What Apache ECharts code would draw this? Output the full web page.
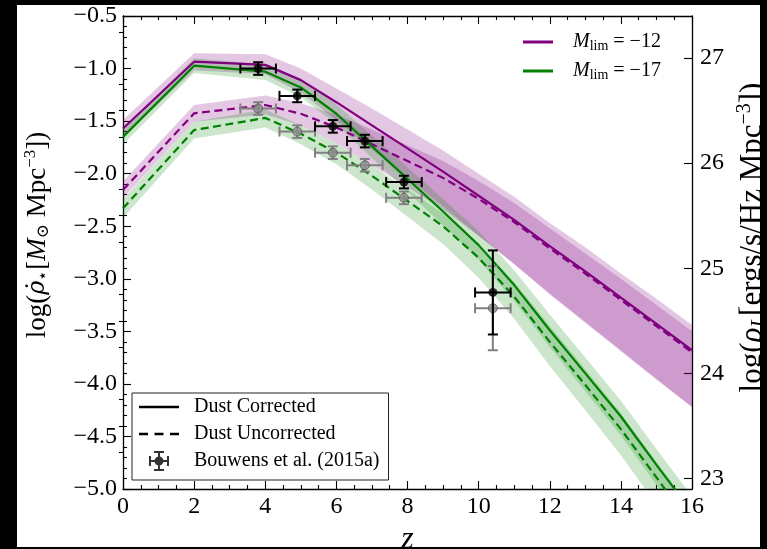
<!DOCTYPE html>
<html><head><meta charset="utf-8">
<script src="https://cdn.jsdelivr.net/npm/echarts@6/dist/echarts.min.js"></script>
<style>html,body{margin:0;padding:0;background:#000;}#chart{width:767px;height:549px;}</style>
</head><body><div id="chart"></div>
<script>
// ---------------- data ----------------
const zNodes = [0, 2, 4, 5, 6, 7, 8, 9, 10, 11, 12, 13, 14, 15, 16];

// M_lim = -12 (purple)
const purpleCorr   = [-1.57, -0.935, -0.965, -1.11, -1.32, -1.54, -1.76, -1.98, -2.21, -2.44, -2.69, -2.93, -3.18, -3.43, -3.68];
const purpleCorrHi = [-1.49, -0.855, -0.865, -1.00, -1.19, -1.38, -1.58, -1.78, -2.00, -2.22, -2.47, -2.70, -2.95, -3.19, -3.44];
const purpleCorrLo = [-1.65, -1.015, -1.055, -1.23, -1.49, -1.77, -2.04, -2.31, -2.59, -2.86, -3.14, -3.41, -3.68, -3.95, -4.22];
const purpleUnc    = [-2.155, -1.426, -1.347, -1.43, -1.56, -1.72, -1.88, -2.04, -2.24, -2.46, -2.71, -2.95, -3.20, -3.45, -3.70];
const purpleUncHi  = [-2.075, -1.346, -1.257, -1.33, -1.44, -1.58, -1.73, -1.88, -2.07, -2.28, -2.52, -2.76, -3.00, -3.25, -3.50];
const purpleUncLo  = [-2.235, -1.506, -1.437, -1.54, -1.71, -1.92, -2.13, -2.34, -2.59, -2.86, -3.15, -3.42, -3.69, -3.96, -4.22];

// M_lim = -17 (green)
const greenCorr    = [-1.65, -0.973, -1.03, -1.18, -1.43, -1.74, -2.05, -2.36, -2.68, -3.06, -3.49, -3.90, -4.31, -4.77, -5.22];
const greenCorrHi  = [-1.58, -0.903, -0.96, -1.10, -1.34, -1.64, -1.94, -2.24, -2.55, -2.92, -3.34, -3.75, -4.16, -4.62, -5.07];
const greenCorrLo  = [-1.72, -1.043, -1.11, -1.27, -1.53, -1.85, -2.17, -2.49, -2.82, -3.21, -3.65, -4.07, -4.49, -4.96, -5.42];
const greenUnc     = [-2.33, -1.585, -1.47, -1.62, -1.80, -2.02, -2.26, -2.50, -2.80, -3.17, -3.60, -4.01, -4.43, -4.89, -5.35];
const greenUncHi   = [-2.24, -1.505, -1.39, -1.54, -1.71, -1.92, -2.15, -2.38, -2.67, -3.03, -3.45, -3.86, -4.28, -4.74, -5.20];
const greenUncLo   = [-2.42, -1.665, -1.56, -1.72, -1.91, -2.15, -2.41, -2.67, -2.99, -3.38, -3.83, -4.25, -4.68, -5.15, -5.62];

// Bouwens et al. (2015a)
const obsZ       = [3.8, 4.9, 5.9, 6.8, 7.9, 10.4];
const obsZErr    = [0.5, 0.5, 0.5, 0.5, 0.5, 0.5];
const obsCorr    = [-1.00, -1.26, -1.55, -1.69, -2.08, -3.13];
const obsUnc     = [-1.38, -1.60, -1.80, -1.92, -2.23, -3.28];
const obsErrLo   = [0.06, 0.06, 0.06, 0.06, 0.06, 0.40];
const obsErrHi   = [0.06, 0.06, 0.06, 0.06, 0.06, 0.40];

// axes
const xTicks = [0, 2, 4, 6, 8, 10, 12, 14, 16];
const yLeftTicks = [-5.0, -4.5, -4.0, -3.5, -3.0, -2.5, -2.0, -1.5, -1.0, -0.5];
const yRightTicks = [23, 24, 25, 26, 27];
const yRightMinor = [23.25, 23.5, 23.75, 24.25, 24.5, 24.75, 25.25, 25.5, 25.75, 26.25, 26.5, 26.75, 27.25];

// ---------------- helpers ----------------
const SERIF = "'Liberation Serif', 'DejaVu Serif', serif";
const PURPLE = '#800080', GREEN = '#008000';
const PURPLE_BAND = 'rgba(128,0,128,0.22)', GREEN_BAND = 'rgba(0,128,0,0.2)';

function zip(a, b) { return a.map((v, i) => [v, b[i]]); }
function bandData(lo, hi) { return zNodes.map((z, i) => [z, lo[i], hi[i]]); }
function errData(vals) { return obsZ.map((z, i) => [z, vals[i], obsZErr[i], obsErrLo[i], obsErrHi[i]]); }

function bandRender(color) {
  return function (params, api) {
    if (params.dataIndexInside !== 0) return null;
    const n = params.dataInsideLength;
    const top = [], bot = [];
    for (let i = 0; i < n; i++) {
      const x = api.value(0, i);
      top.push(api.coord([x, api.value(2, i)]));
      bot.push(api.coord([x, api.value(1, i)]));
    }
    const cs = params.coordSys;
    return {
      type: 'polygon',
      shape: { points: top.concat(bot.reverse()) },
      style: { fill: color },
      clipPath: { type: 'rect', shape: { x: cs.x, y: cs.y, width: cs.width, height: cs.height } }
    };
  };
}

function errRender(color) {
  return function (params, api) {
    const x = api.value(0), y = api.value(1), xe = api.value(2), lo = api.value(3), hi = api.value(4);
    const l = api.coord([x - xe, y]), r = api.coord([x + xe, y]);
    const t = api.coord([x, y + hi]), b = api.coord([x, y - lo]);
    const cap = 5;
    const st = { stroke: color, lineWidth: 2 };
    const ln = (x1, y1, x2, y2) => ({ type: 'line', shape: { x1, y1, x2, y2 }, style: st });
    return {
      type: 'group',
      children: [
        ln(l[0], l[1], r[0], r[1]),
        ln(t[0], t[1], b[0], b[1]),
        ln(l[0], l[1] - cap, l[0], l[1] + cap),
        ln(r[0], r[1] - cap, r[0], r[1] + cap),
        ln(t[0] - cap, t[1], t[0] + cap, t[1]),
        ln(b[0] - cap, b[1], b[0] + cap, b[1])
      ]
    };
  };
}

const axisLineStyle = { color: '#000', width: 1.3 };
const tickStyle = { color: '#000', width: 1.1 };

const titleRich = {
  a: { fontFamily: SERIF, fontSize: 27, color: '#000', lineHeight: 30 },
  r: { fontFamily: SERIF, fontSize: 27, fontStyle: 'italic', color: '#000', lineHeight: 30 },
  rd: { fontFamily: "'DejaVu Serif', serif", fontSize: 24, fontStyle: 'italic', color: '#000', lineHeight: 30 },
  sb: { fontFamily: SERIF, fontSize: 17, color: '#000', lineHeight: 18, padding: [12, 0, 0, 0] },
  sp: { fontFamily: SERIF, fontSize: 17, color: '#000', lineHeight: 18, padding: [0, 0, 14, 0] }
};

const titleRichR = {
  a: { fontFamily: SERIF, fontSize: 31, color: '#000', lineHeight: 34 },
  r: { fontFamily: SERIF, fontSize: 31, fontStyle: 'italic', color: '#000', lineHeight: 34 },
  sbi: { fontFamily: SERIF, fontSize: 21, fontStyle: 'italic', color: '#000', lineHeight: 20, padding: [14, 0, 0, 0] },
  sp: { fontFamily: SERIF, fontSize: 20, color: '#000', lineHeight: 20, padding: [0, 0, 16, 0] }
};

const legendRich = {
  m: { fontFamily: SERIF, fontSize: 20, fontStyle: 'italic', color: '#000', lineHeight: 20 },
  s: { fontFamily: SERIF, fontSize: 14, color: '#000', lineHeight: 14, padding: [8, 0, 0, 0] },
  t: { fontFamily: SERIF, fontSize: 20, color: '#000', lineHeight: 20 }
};

const errIcon = 'path://M0,9H20V11H0Z M9,0H11V20H9Z M0,5H2V15H0Z M18,5H20V15H18Z M5,0H15V2H5Z M5,18H15V20H5Z M10,5.5A4.5,4.5 0 1,1 9.99,5.5Z';

const chart = echarts.init(document.getElementById('chart'));
chart.setOption({
  backgroundColor: '#fff',
  animation: false,
  grid: { left: 123, top: 16, width: 569, height: 473, containLabel: false, outerBoundsMode: 'none' },
  xAxis: [
    {
      type: 'value', min: 0, max: 16, interval: 2, position: 'bottom',
      axisLine: { onZero: false, lineStyle: axisLineStyle },
      axisTick: { inside: true, length: 8, lineStyle: tickStyle },
      minorTick: { show: true, splitNumber: 4, length: 4, lineStyle: tickStyle },
      axisLabel: { fontFamily: SERIF, fontSize: 24, color: '#000', margin: 6 },
      splitLine: { show: false },
      name: 'z', nameLocation: 'middle', nameGap: 30,
      nameTextStyle: { fontFamily: SERIF, fontSize: 32, fontStyle: 'italic', color: '#000' }
    },
    {
      type: 'value', min: 0, max: 16, interval: 2, position: 'top',
      axisLine: { onZero: false, lineStyle: axisLineStyle },
      axisTick: { inside: true, length: 8, lineStyle: tickStyle },
      minorTick: { show: true, splitNumber: 4, length: 4, lineStyle: tickStyle },
      axisLabel: { show: false },
      splitLine: { show: false }
    }
  ],
  yAxis: [
    {
      type: 'value', min: -5, max: -0.5, interval: 0.5, position: 'left',
      axisLine: { onZero: false, lineStyle: axisLineStyle },
      axisTick: { inside: true, length: 8, lineStyle: tickStyle },
      minorTick: { show: true, splitNumber: 5, length: 4, lineStyle: tickStyle },
      axisLabel: {
        fontFamily: SERIF, fontSize: 24, color: '#000', margin: 6,
        formatter: v => (v < 0 ? '\u2212' : '') + Math.abs(v).toFixed(1)
      },
      splitLine: { show: false },
      name: '{a|log(}{rd|\u03c1\u0307}{sb|\u22c6}{a|[}{r|M}{sb|\u2299}{a| Mpc}{sp|\u22123}{a|])}',
      nameLocation: 'middle', nameRotate: 90, nameGap: 70,
      nameTextStyle: { rich: titleRich, padding: [0, 0, 0, 35] }
    },
    {
      type: 'value', min: 22.9, max: 27.4, position: 'right',
      axisLine: { onZero: false, lineStyle: axisLineStyle },
      axisTick: { inside: true, length: 8, lineStyle: tickStyle, customValues: yRightTicks },
      axisLabel: { fontFamily: SERIF, fontSize: 24, color: '#000', margin: 8, customValues: yRightTicks },
      splitLine: { show: false },
      name: '{a|log(}{r|\u03c1}{sbi|L}{a|[ergs/s/Hz Mpc}{sp|\u22123}{a|])}',
      nameLocation: 'middle', nameRotate: 90, nameGap: 37,
      nameTextStyle: { rich: titleRichR, padding: [0, 0, 0, 30] }
    },
    {
      type: 'value', min: 22.9, max: 27.4, position: 'right',
      axisLine: { show: false },
      axisTick: { inside: true, length: 4, lineStyle: tickStyle, customValues: yRightMinor },
      axisLabel: { show: false },
      splitLine: { show: false }
    }
  ],
  legend: [
    {
      left: 523, top: 31, orient: 'vertical', padding: 0, itemGap: 7,
      itemWidth: 30, itemHeight: 20, selectedMode: false,
      data: [
        { name: 'M_lim = \u221212', icon: 'path://M0,0H30V3H0Z' },
        { name: 'M_lim = \u221217', icon: 'path://M0,0H30V3H0Z' }
      ],
      formatter: n => '{m|M}{s|lim}{t| = ' + n.split('= ')[1] + '}',
      textStyle: { rich: legendRich, padding: [0, 0, 0, 15] }
    },
    {
      left: 132, top: 393, orient: 'vertical', padding: [4, 9, 9, 7], itemGap: 7,
      itemWidth: 40, itemHeight: 20, selectedMode: false,
      backgroundColor: '#fff', borderColor: '#222', borderWidth: 1, borderRadius: 0,
      data: [
        { name: 'Dust Corrected', icon: 'path://M0,0H40V2.5H0Z' },
        { name: 'Dust Uncorrected', icon: 'path://M0,0H9V2.5H0Z M15.5,0H24.5V2.5H15.5Z M31,0H40V2.5H31Z' },
        { name: 'Bouwens et al. (2015a)', icon: errIcon }
      ],
      textStyle: { fontFamily: SERIF, fontSize: 20, color: '#000', padding: [0, 0, 0, 10] }
    }
  ],
  graphic: [
    { type: 'rect', shape: { x: 0, y: 0, width: 17, height: 549 }, style: { fill: '#000' }, z: 100, silent: true },
    { type: 'rect', shape: { x: 0, y: 0, width: 767, height: 5 }, style: { fill: '#000' }, z: 100, silent: true },
    { type: 'rect', shape: { x: 760, y: 0, width: 7, height: 549 }, style: { fill: '#000' }, z: 100, silent: true },
    { type: 'rect', shape: { x: 0, y: 547, width: 767, height: 2 }, style: { fill: '#000' }, z: 100, silent: true }
  ],
  series: [
    { type: 'custom', name: 'band P corr', silent: true, clip: true, renderItem: bandRender(PURPLE_BAND), data: bandData(purpleCorrLo, purpleCorrHi), encode: { x: 0, y: [1, 2] }, z: 1 },
    { type: 'custom', name: 'band P unc', silent: true, clip: true, renderItem: bandRender(PURPLE_BAND), data: bandData(purpleUncLo, purpleUncHi), encode: { x: 0, y: [1, 2] }, z: 1 },
    { type: 'custom', name: 'band G corr', silent: true, clip: true, renderItem: bandRender(GREEN_BAND), data: bandData(greenCorrLo, greenCorrHi), encode: { x: 0, y: [1, 2] }, z: 1 },
    { type: 'custom', name: 'band G unc', silent: true, clip: true, renderItem: bandRender(GREEN_BAND), data: bandData(greenUncLo, greenUncHi), encode: { x: 0, y: [1, 2] }, z: 1 },

    { type: 'line', name: 'M_lim = \u221212', data: zip(zNodes, purpleCorr), color: PURPLE, symbol: 'none', clip: true, lineStyle: { color: PURPLE, width: 2.2 }, z: 5 },
    { type: 'line', name: 'P unc', data: zip(zNodes, purpleUnc), color: PURPLE, symbol: 'none', clip: true, lineStyle: { color: PURPLE, width: 2.2, type: [8, 4.5] }, z: 5 },
    { type: 'line', name: 'M_lim = \u221217', data: zip(zNodes, greenCorr), color: GREEN, symbol: 'none', clip: true, lineStyle: { color: GREEN, width: 2.2 }, z: 6 },
    { type: 'line', name: 'G unc', data: zip(zNodes, greenUnc), color: GREEN, symbol: 'none', clip: true, lineStyle: { color: GREEN, width: 2.2, type: [8, 4.5] }, z: 6 },

    { type: 'line', name: 'Dust Corrected', data: [], color: '#000', symbol: 'none', lineStyle: { color: '#000', width: 2.5 } },
    { type: 'line', name: 'Dust Uncorrected', data: [], color: '#000', symbol: 'none', lineStyle: { color: '#000', width: 2.5, type: 'dashed' } },

    { type: 'custom', name: 'err unc', renderItem: errRender('#808080'), data: errData(obsUnc), encode: { x: 0, y: 1 }, z: 10 },
    { type: 'scatter', name: 'obs unc', data: zip(obsZ, obsUnc), symbolSize: 9, itemStyle: { color: '#8c8c8c', borderColor: '#5a5a5a', borderWidth: 1 }, z: 11 },
    { type: 'custom', name: 'err corr', renderItem: errRender('#000'), data: errData(obsCorr), encode: { x: 0, y: 1 }, z: 12 },
    { type: 'scatter', name: 'Bouwens et al. (2015a)', color: '#000', data: zip(obsZ, obsCorr), symbolSize: 9, itemStyle: { color: '#000' }, z: 13 }
  ]
});
</script></body></html>
